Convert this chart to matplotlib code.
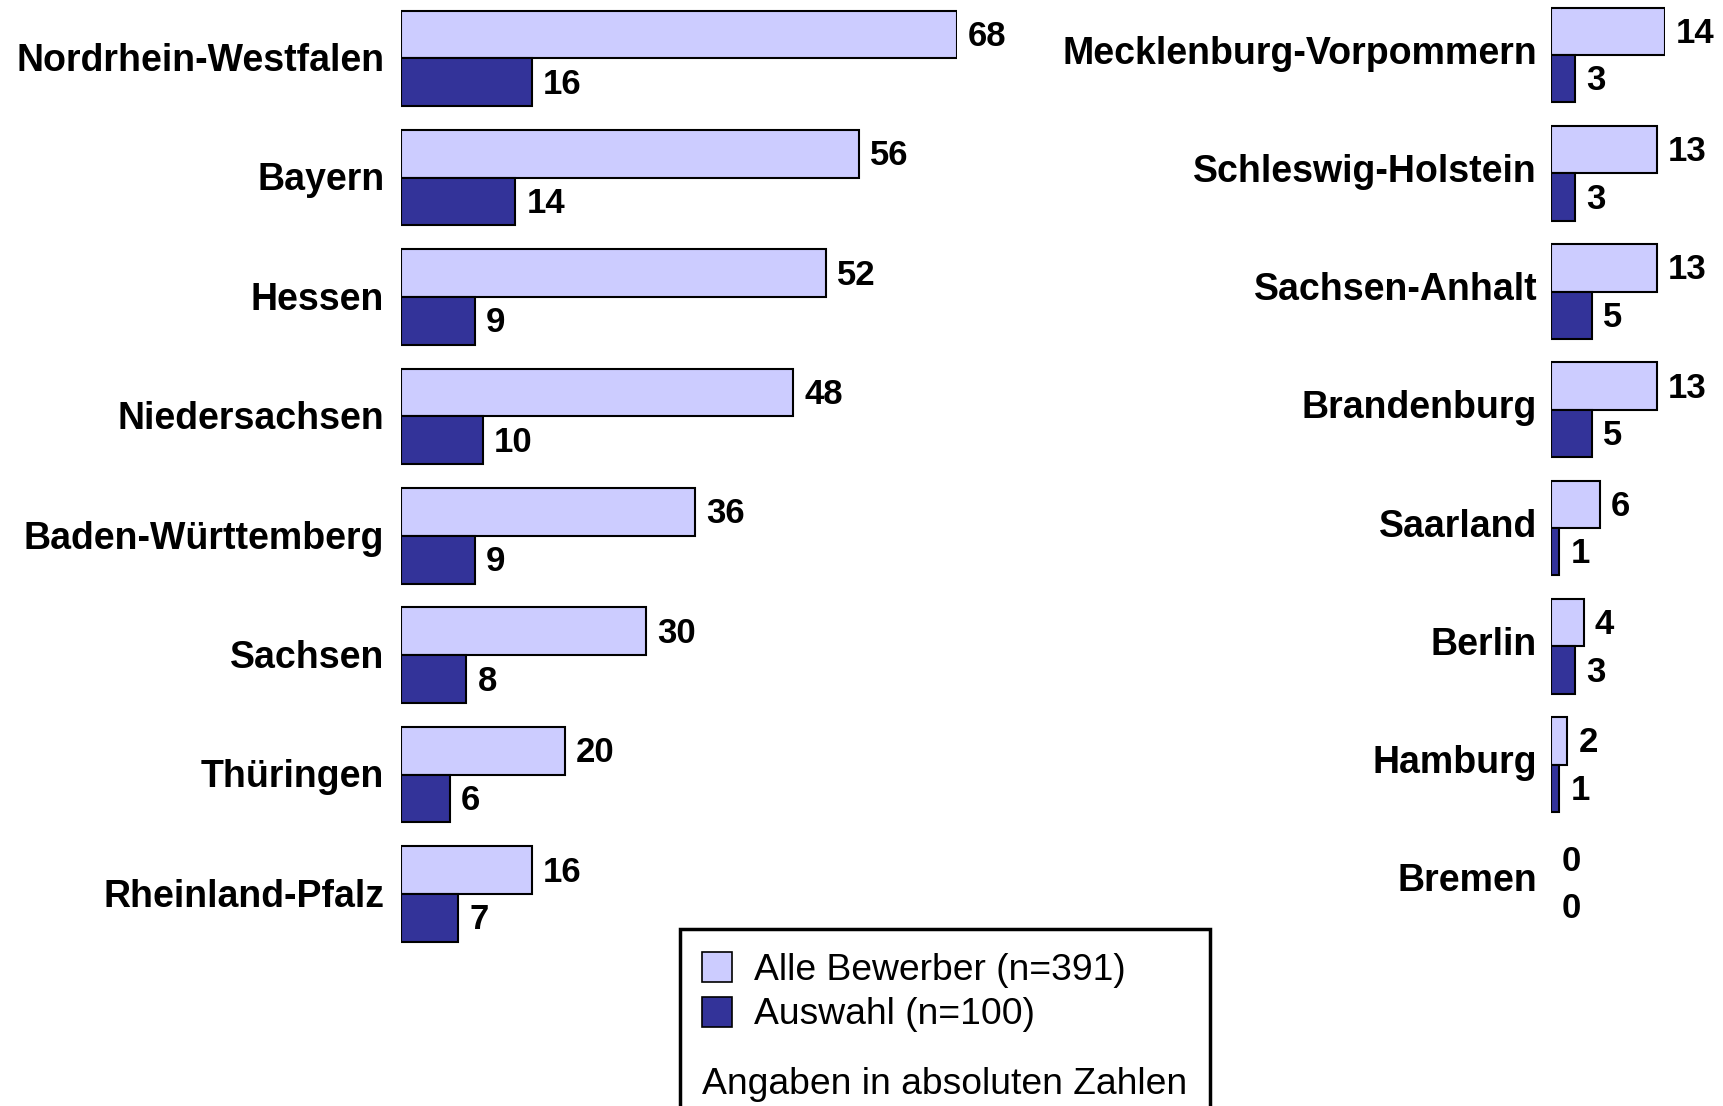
import numpy as np
import matplotlib.pyplot as plt
from matplotlib.patches import Rectangle

plt.rcParams["font.family"] = ["Liberation Sans", "DejaVu Sans"]

left_states = ["Nordrhein-Westfalen", "Bayern", "Hessen", "Niedersachsen",
               "Baden-Württemberg", "Sachsen", "Thüringen", "Rheinland-Pfalz"]
left_all = [68, 56, 52, 48, 36, 30, 20, 16]
left_sel = [16, 14, 9, 10, 9, 8, 6, 7]

right_states = ["Mecklenburg-Vorpommern", "Schleswig-Holstein", "Sachsen-Anhalt",
                "Brandenburg", "Saarland", "Berlin", "Hamburg", "Bremen"]
right_all = [14, 13, 13, 13, 6, 4, 2, 0]
right_sel = [3, 3, 5, 5, 1, 3, 1, 0]

legend_labels = ["Alle Bewerber (n=391)", "Auswahl (n=100)"]
note = "Angaben in absoluten Zahlen"

light = "#CCCCFF"
dark = "#333399"

W, H = 1724, 1106
fig = plt.figure(figsize=(W / 100, H / 100), dpi=100)


def px_axes(x0, top, width, height):
    # pixel box (from top-left) -> figure fraction
    return fig.add_axes([x0 / W, 1 - (top + height) / H, width / W, height / H])


def draw_panel(ax, states, all_vals, sel_vals, xmax, lab_dx, lab_dy):
    n = len(states)
    y = np.arange(n)
    h = 0.4
    lw_all = [1.5 if v > 0 else 0 for v in all_vals]
    lw_sel = [1.5 if v > 0 else 0 for v in sel_vals]
    ax.barh(y - h / 2, all_vals, height=h, color=light, edgecolor="black", linewidth=lw_all)
    ax.barh(y + h / 2, sel_vals, height=h, color=dark, edgecolor="black", linewidth=lw_sel)
    for i in range(n):
        ax.annotate(str(all_vals[i]), (all_vals[i], y[i] - h / 2), xytext=(8, -1.5),
                    textcoords="offset points", va="center", ha="left",
                    fontsize=25, fontweight="bold", annotation_clip=False)
        ax.annotate(str(sel_vals[i]), (sel_vals[i], y[i] + h / 2), xytext=(8, -1.5),
                    textcoords="offset points", va="center", ha="left",
                    fontsize=25, fontweight="bold", annotation_clip=False)
        ax.annotate(states[i], (0, y[i]), xytext=(lab_dx, lab_dy), textcoords="offset points",
                    va="center", ha="right", fontsize=27, fontweight="bold",
                    annotation_clip=False)
    ax.set_xlim(0, xmax)
    ax.set_ylim(n - 0.5, -0.5)
    ax.axis("off")


ax1 = px_axes(401, -1.4, 556, 955)
draw_panel(ax1, left_states, left_all, left_sel, 68, -12, -2)

ax2 = px_axes(1551, -4.1, 114, 946)
draw_panel(ax2, right_states, right_all, right_sel, 14, -10, 1)

# legend box
fig.patches.append(Rectangle((680 / W, 1 - 1115 / H), 530 / W, 186 / H,
                             transform=fig.transFigure, facecolor="white",
                             edgecolor="black", linewidth=2.5))
for k, (lab, col) in enumerate(zip(legend_labels, [light, dark])):
    ytop = 952 + k * 45
    fig.patches.append(Rectangle((702 / W, 1 - (ytop + 30) / H), 30 / W, 30 / H,
                                 transform=fig.transFigure, facecolor=col,
                                 edgecolor="black", linewidth=1.2))
    fig.text(754 / W, 1 - (ytop + 18) / H, lab, fontsize=26.8, va="center", ha="left")
fig.text(702 / W, 1 - 1084 / H, note, fontsize=26.8, va="center", ha="left")

fig.savefig("out.png", dpi=100)
